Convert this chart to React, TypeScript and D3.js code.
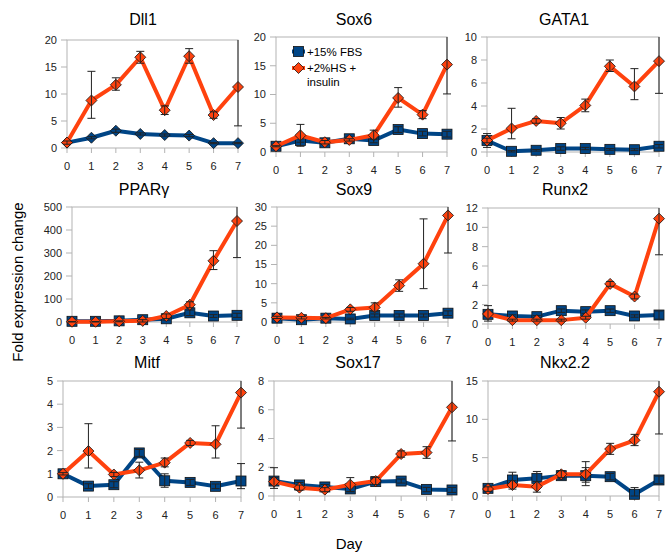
import React from 'react';
import * as d3 from 'd3';

// days on the x axis
const days = [0, 1, 2, 3, 4, 5, 6, 7];
const genes = ['Dll1', 'Sox6', 'GATA1', 'PPARγ', 'Sox9', 'Runx2', 'Mitf', 'Sox17', 'Nkx2.2'];
const yMax = [20, 20, 10, 500, 30, 12, 5, 8, 15];
const yStep = [5, 5, 2, 100, 5, 2, 1, 2, 5];
const seriesNames = ['+15% FBS', '+2%HS +', 'insulin'];

// each point: [mean, low, high]
const dll1Fbs = [[1, 0.9, 1.1], [1.9, 1.7, 2.1], [3.2, 2.9, 3.5], [2.6, 2.4, 2.8], [2.4, 2.2, 2.6], [2.3, 2.1, 2.5], [0.9, 0.8, 1], [0.9, 0.8, 1]];
const dll1Hs = [[1, 0.7, 1.3], [8.8, 5.5, 14.2], [11.7, 10.7, 13], [16.8, 15.7, 17.9], [7, 6.2, 7.8], [17, 15.7, 18.4], [6.1, 5.5, 6.7], [11.3, 4.1, 21]];
const sox6Fbs = [[1, 0.8, 1.2], [2, 1.7, 2.3], [1.6, 1.3, 1.9], [2.3, 2, 2.6], [2, 1.6, 2.4], [3.9, 3.4, 4.4], [3.2, 2.8, 3.6], [3.1, 2.6, 3.6]];
const sox6Hs = [[1, 0.9, 1.1], [2.9, 1, 4.8], [1.7, 1.4, 2], [2.1, 1.9, 2.3], [2.9, 2.2, 3.8], [9.4, 7.8, 11.2], [6.5, 5.8, 7.2], [15.2, 10.1, 21]];
const gata1Fbs = [[1, 0.4, 1.6], [0.06, 0, 0.12], [0.15, 0.08, 0.22], [0.3, 0.15, 0.45], [0.3, 0.2, 0.4], [0.23, 0.15, 0.3], [0.2, 0.12, 0.28], [0.5, 0.35, 0.65]];
const gata1Hs = [[1, 0.8, 1.2], [2.05, 1.15, 3.8], [2.7, 2.5, 2.9], [2.5, 2, 3], [4.05, 3.5, 4.6], [7.45, 7, 8], [5.7, 4.55, 7.25], [7.9, 5.1, 10.5]];
const pparFbs = [[3, 0, 6], [3, 0, 6], [5, 0, 10], [10, 3, 17], [14, 8, 20], [40, 28, 52], [26, 20, 32], [29, 20, 38]];
const pparHs = [[1, 0, 2], [1, 0, 2], [3, 1, 5], [5, 0, 10], [26, 15, 35], [75, 62, 88], [266, 228, 310], [439, 280, 510]];
const sox9Fbs = [[1, 0.8, 1.2], [0.6, 0.4, 0.8], [1, 0.8, 1.2], [0.8, 0.6, 1], [1.7, 1.3, 2.1], [1.7, 1.3, 2.1], [1.7, 1.3, 2.1], [2.3, 1.7, 2.9]];
const sox9Hs = [[1.2, 0.9, 1.5], [1.1, 0.8, 1.4], [1, 0.8, 1.2], [3.3, 2.8, 3.8], [3.8, 2.8, 5], [9.5, 8, 11], [15.2, 8.7, 26.9], [27.8, 18, 31]];
const runx2Fbs = [[1, 0.8, 1.2], [0.83, 0.7, 0.95], [0.76, 0.65, 0.87], [1.38, 1.2, 1.55], [1.28, 1.1, 1.45], [1.38, 1.2, 1.55], [0.83, 0.7, 0.95], [0.93, 0.5, 1.35]];
const runx2Hs = [[1.04, 0.3, 1.9], [0.4, 0.3, 0.5], [0.4, 0.3, 0.5], [0.4, 0.3, 0.5], [0.65, 0.5, 0.8], [4.15, 3.9, 4.4], [2.84, 2.6, 3.1], [10.9, 7.16, 12.5]];
const mitfFbs = [[1, 0.93, 1.07], [0.47, 0.37, 0.57], [0.53, 0.4, 0.66], [1.9, 1.75, 2.05], [0.7, 0.42, 1], [0.63, 0.5, 0.76], [0.46, 0.36, 0.56], [0.69, 0.36, 1.44]];
const mitfHs = [[1, 0.95, 1.05], [1.98, 1.25, 3.16], [0.97, 0.88, 1.06], [1.15, 0.82, 1.5], [1.48, 1.3, 1.68], [2.33, 2.22, 2.44], [2.27, 1.68, 3.07], [4.5, 2.97, 5.2]];
const sox17Fbs = [[1.04, 0.8, 1.28], [0.77, 0.6, 0.94], [0.63, 0.45, 0.8], [0.49, 0.3, 0.68], [1, 0.8, 1.2], [1.04, 0.9, 1.18], [0.46, 0.3, 0.6], [0.42, 0.25, 0.6]];
const sox17Hs = [[1, 0.53, 1.97], [0.58, 0.4, 0.76], [0.44, 0.3, 0.58], [0.79, 0.3, 1.28], [1.04, 0.8, 1.3], [2.92, 2.7, 3.14], [3.02, 2.62, 3.43], [6.17, 3.83, 8.3]];
const nkxFbs = [[1, 0.7, 1.3], [2.09, 1.1, 3.1], [2.3, 1.2, 3.2], [2.65, 2.2, 3.1], [2.65, 1.8, 3.7], [2.52, 2.1, 2.95], [0.22, 0, 1.1], [2.09, 1.6, 2.6]];
const nkxHs = [[0.91, 0.6, 1.2], [1.43, 0.9, 2], [1.22, 0.5, 1.9], [2.83, 2.4, 3.3], [2.83, 1.35, 4.48], [6.13, 5.43, 6.87], [7.26, 6.57, 8.04], [13.6, 8.09, 15.5]];

const fbsSeries = [dll1Fbs, sox6Fbs, gata1Fbs, pparFbs, sox9Fbs, runx2Fbs, mitfFbs, sox17Fbs, nkxFbs];
const hsSeries = [dll1Hs, sox6Hs, gata1Hs, pparHs, sox9Hs, runx2Hs, mitfHs, sox17Hs, nkxHs];
const fbsMarker = ['diamond', 'square', 'square', 'square', 'square', 'square', 'square', 'square', 'square'];

// plot boxes (left, right, top, bottom) and title anchor
const boxes = [
  { l: 67, r: 238, t: 40, b: 148, tx: 143, ty: 25 },
  { l: 276, r: 447, t: 37, b: 152, tx: 354, ty: 25 },
  { l: 487, r: 659, t: 37, b: 152, tx: 564, ty: 25 },
  { l: 72, r: 237, t: 207, b: 322, tx: 144, ty: 195 },
  { l: 277, r: 448, t: 207, b: 322, tx: 354, ty: 195 },
  { l: 488, r: 659, t: 208, b: 324, tx: 565, ty: 195 },
  { l: 63, r: 241, t: 381, b: 497, tx: 147, ty: 368 },
  { l: 274, r: 452, t: 381, b: 496, tx: 358, ty: 368 },
  { l: 488, r: 659, t: 381, b: 496, tx: 565, ty: 368 },
];

const BLUE = '#004586';
const ORANGE = '#ff420e';
const AXIS = '#b3b3b3';
const FONT = '"Liberation Sans", Arial, sans-serif';

function Marker({ kind, x, y, fill }: { kind: string; x: number; y: number; fill: string }) {
  if (kind === 'square') {
    return <rect x={x - 5} y={y - 5} width={10} height={10} fill={fill} stroke="#111" strokeWidth={0.8} />;
  }
  const s = 5.5;
  return <path d={`M${x},${y - s}L${x + s},${y}L${x},${y + s}L${x - s},${y}Z`} fill={fill} stroke="#111" strokeWidth={0.8} />;
}

function Series({ data, x, y, color, marker, clipId }: any) {
  const line = d3.line<number[]>().x((d, i) => x(days[i])).y(d => y(d[0]));
  return (
    <g>
      <path d={line(data) || ''} fill="none" stroke={color} strokeWidth={4} strokeLinejoin="round" />
      {data.map((d: number[], i: number) => (
        <Marker key={i} kind={marker} x={x(days[i])} y={y(d[0])} fill={color} />
      ))}
      <g clipPath={`url(#${clipId})`} stroke="#222" strokeWidth={1}>
        {data.map((d: number[], i: number) => {
          const cx = x(days[i]);
          return (
            <g key={i}>
              <line x1={cx} x2={cx} y1={y(d[1])} y2={y(d[2])} />
              <line x1={cx - 4} x2={cx + 4} y1={y(d[1])} y2={y(d[1])} />
              <line x1={cx - 4} x2={cx + 4} y1={y(d[2])} y2={y(d[2])} />
            </g>
          );
        })}
      </g>
    </g>
  );
}

function Panel({ idx }: { idx: number }) {
  const bx = boxes[idx];
  const x = d3.scaleLinear().domain([0, 7]).range([bx.l, bx.r]);
  const y = d3.scaleLinear().domain([0, yMax[idx]]).range([bx.b, bx.t]);
  const ticks = d3.range(0, yMax[idx] + yStep[idx] / 2, yStep[idx]);
  const clipId = `clip${idx}`;
  return (
    <g>
      <defs>
        <clipPath id={clipId}>
          <rect x={bx.l - 10} y={bx.t} width={bx.r - bx.l + 20} height={bx.b - bx.t + 10} />
        </clipPath>
      </defs>
      <text x={bx.tx} y={bx.ty} textAnchor="middle" fontSize={16} fill="#000">{genes[idx]}</text>
      <rect x={bx.l} y={bx.t} width={bx.r - bx.l} height={bx.b - bx.t} fill="none" stroke={AXIS} strokeWidth={1} />
      {ticks.map(t => (
        <g key={t}>
          <line x1={bx.l - 6} x2={bx.l} y1={y(t)} y2={y(t)} stroke={AXIS} />
          <text x={bx.l - 10} y={y(t)} dy="0.36em" textAnchor="end" fontSize={11} fill="#222">{t}</text>
        </g>
      ))}
      {days.map(dd => (
        <g key={dd}>
          <line x1={x(dd)} x2={x(dd)} y1={bx.b} y2={bx.b + 5} stroke={AXIS} />
          <text x={x(dd)} y={bx.b + 21.5} textAnchor="middle" fontSize={11} fill="#222">{dd}</text>
        </g>
      ))}
      <Series data={fbsSeries[idx]} x={x} y={y} color={BLUE} marker={fbsMarker[idx]} clipId={clipId} />
      <Series data={hsSeries[idx]} x={x} y={y} color={ORANGE} marker="diamond" clipId={clipId} />
    </g>
  );
}

function Legend() {
  const lx = 292, lx2 = 305;
  return (
    <g fontSize={11.5} fill="#000">
      <line x1={lx} x2={lx2} y1={51.5} y2={51.5} stroke={BLUE} strokeWidth={4} />
      <Marker kind="square" x={(lx + lx2) / 2} y={51.5} fill={BLUE} />
      <text x={307} y={55.5}>{seriesNames[0]}</text>
      <line x1={lx} x2={lx2} y1={68} y2={68} stroke={ORANGE} strokeWidth={4} />
      <Marker kind="diamond" x={(lx + lx2) / 2} y={68} fill={ORANGE} />
      <text x={307} y={72}>{seriesNames[1]}</text>
      <text x={307} y={86}>{seriesNames[2]}</text>
    </g>
  );
}

export default function App() {
  return (
    <svg width={667} height={552} style={{ position: 'absolute', left: 0, top: 0, background: '#fff' }} fontFamily={FONT}>
      <rect width={667} height={552} fill="#fff" />
      {genes.map((g, i) => <Panel key={g} idx={i} />)}
      <Legend />
      <text transform="translate(23,282) rotate(-90)" textAnchor="middle" fontSize={15} fill="#000">Fold expression change</text>
      <text x={349} y={549} textAnchor="middle" fontSize={15} fill="#000">Day</text>
    </svg>
  );
}
